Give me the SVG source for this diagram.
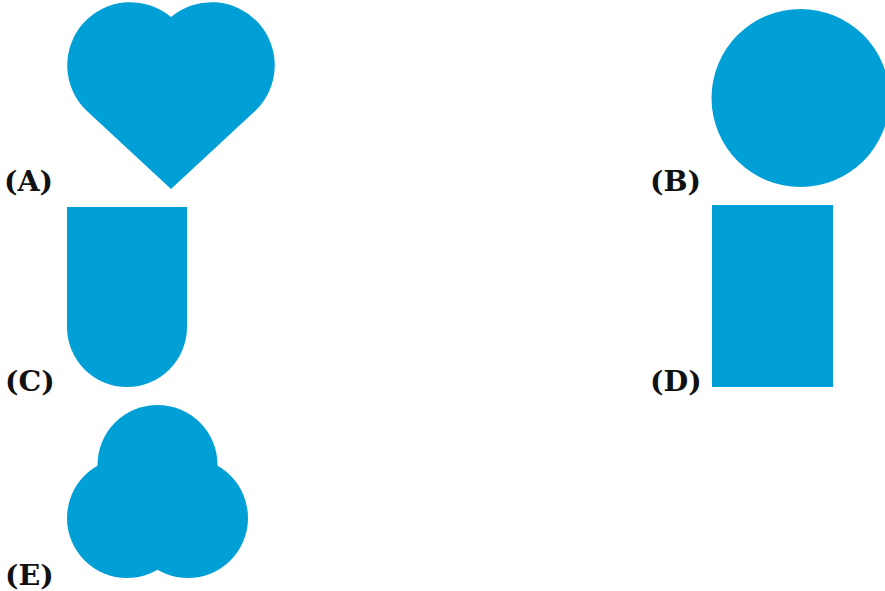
<svg xmlns="http://www.w3.org/2000/svg" width="885" height="591" viewBox="0 0 885 591">
<style>
.s{fill:#00A0D6;stroke:none}
.l{font-family:"DejaVu Serif","Liberation Serif",serif;font-weight:bold;font-size:28.5px;fill:#111}
</style>
<rect width="885" height="591" fill="#fff"/>
<g id="A">
<path class="s" d="M171,189 L87.2,111.3 A63.1,63.1 0 0 1 171,17 A63.1,63.1 0 0 1 254.8,111.3 Z"/>
<text class="l" x="4" y="191">(A)</text>
</g>
<g id="B">
<circle class="s" cx="800.5" cy="98" r="89"/>
<text class="l" x="650" y="191">(B)</text>
</g>
<g id="C">
<path class="s" d="M67,207 H187 V327 A60,60 0 0 1 67,327 Z"/>
<text class="l" x="5" y="391">(C)</text>
</g>
<g id="D">
<rect class="s" x="712" y="205" width="121" height="182"/>
<text class="l" x="650" y="391">(D)</text>
</g>
<g id="E">
<circle class="s" cx="157.5" cy="465" r="60"/>
<circle class="s" cx="127" cy="518" r="60"/>
<circle class="s" cx="188" cy="518" r="60"/>
<text class="l" x="5" y="585">(E)</text>
</g>
</svg>
